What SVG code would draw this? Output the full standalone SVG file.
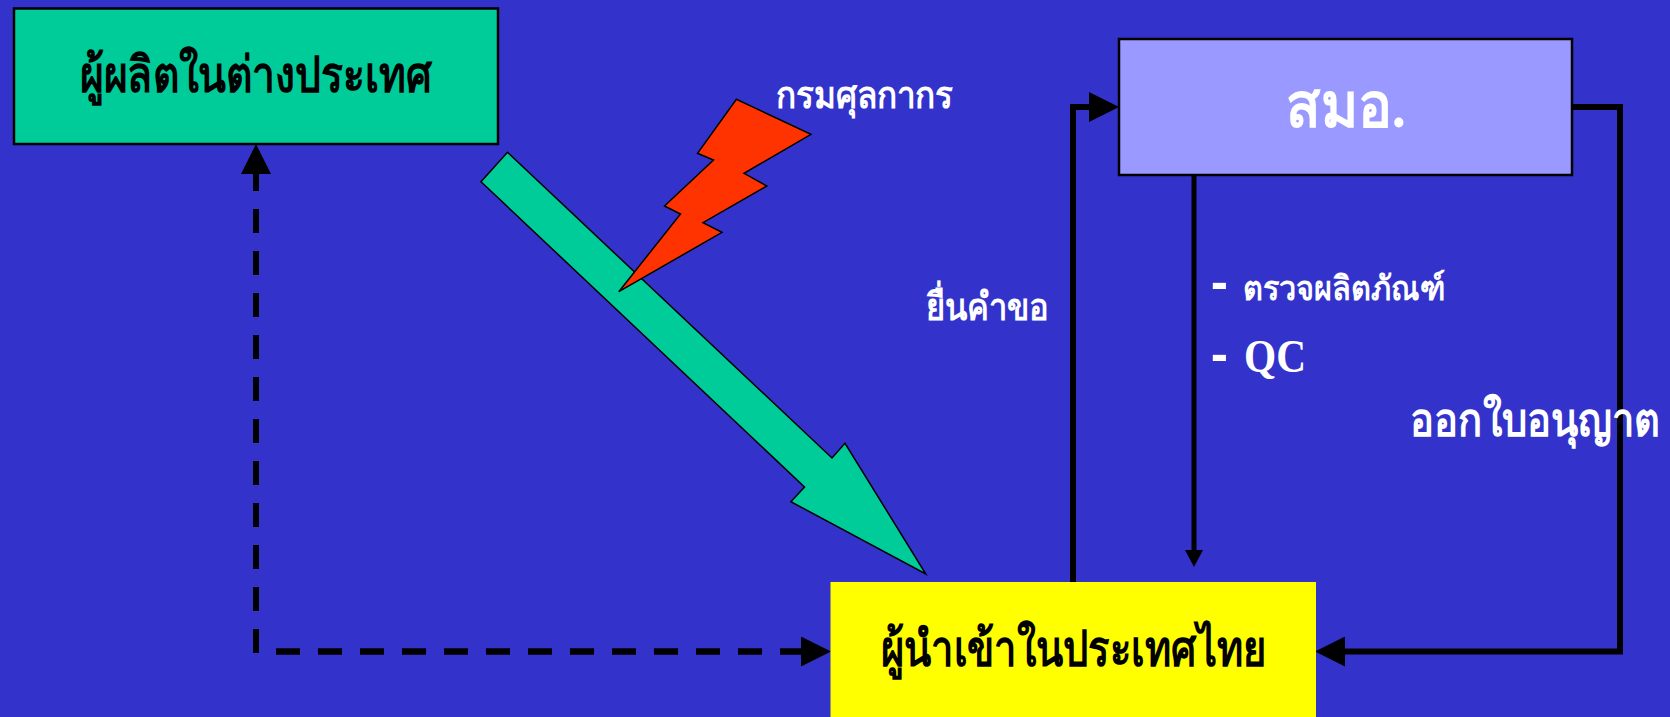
<svg xmlns="http://www.w3.org/2000/svg" width="1670" height="717" viewBox="0 0 1670 717">
<style>
text{font-family:"Liberation Serif","DejaVu Serif",serif;font-weight:bold}
.k{fill:#000}.w{fill:#fff}
.box{stroke:#000;stroke-width:2.5}
.shape{stroke:#000;stroke-width:1.5;stroke-linejoin:miter}
.ln{fill:none;stroke:#000;stroke-width:6;stroke-linejoin:miter}
.dash{stroke-dasharray:24 18}
</style>
<defs>
<marker id="a" markerUnits="userSpaceOnUse" markerWidth="30" markerHeight="30" refX="0" refY="15" orient="auto"><path d="M0 0L30 15L0 30z" fill="#000"/></marker>
<marker id="b" markerUnits="userSpaceOnUse" markerWidth="18" markerHeight="18" refX="0" refY="9" orient="auto"><path d="M0 0L17 9L0 18z" fill="#000"/></marker>
</defs>
<rect width="1670" height="717" fill="#3333CC"/>
<g id="connectors">
<path class="ln" d="M256 191V174" marker-end="url(#a)"/>
<path class="ln dash" d="M256 209V654"/>
<path class="ln dash" d="M276 651.5H801" style="stroke-width:6.5" marker-end="url(#a)"/>
<path class="ln" d="M1073 583V107H1089" marker-end="url(#a)"/>
<path class="ln" d="M1194 175V550" style="stroke-width:5" marker-end="url(#b)"/>
<path class="ln" d="M1572 107H1620V651.5H1345" marker-end="url(#a)"/>
</g>
<g id="node-foreign-maker">
<rect class="box" x="14" y="8.5" width="484" height="135.5" fill="#00CC99"/>
<text class="k" x="80" y="92" font-size="50" textLength="352" lengthAdjust="spacingAndGlyphs">ผู้ผลิตในต่างประเทศ</text>
</g>
<g id="node-tisi">
<rect class="box" x="1119" y="39" width="453" height="136" fill="#9999FF"/>
<text class="w" x="1286" y="127" font-size="62" textLength="120" lengthAdjust="spacingAndGlyphs">สมอ.</text>
</g>
<g id="node-thai-importer">
<rect x="830.5" y="582" width="485.5" height="135" fill="#FFFF00"/>
<text class="k" x="881" y="666" font-size="50" textLength="385" lengthAdjust="spacingAndGlyphs">ผู้นำเข้าในประเทศไทย</text>
</g>
<g id="node-big-arrow">
<path class="shape" fill="#00CC99" d="M507.5 152.3L832 458L845 443.3L925.8 574L790.9 501.7L804.5 487L481 181.7Z"/>
</g>
<g id="node-customs">
<path class="shape" fill="#FF3300" d="M736.4 99.3L811 134.3L744 173.3L766.8 186L703 222.7L722 232.3L618.8 291.7L680.5 214L664.5 206L713.5 160L697.5 153.3Z"/>
<text class="w" x="776" y="108" font-size="38" textLength="177" lengthAdjust="spacingAndGlyphs">กรมศุลกากร</text>
</g>
<text class="w" x="926" y="320" font-size="38" textLength="123" lengthAdjust="spacingAndGlyphs">ยื่นคำขอ</text>
<text class="w" transform="translate(1211,303) scale(.7,1)" font-size="72">-</text>
<text class="w" x="1243" y="300" font-size="34" textLength="202" lengthAdjust="spacingAndGlyphs">ตรวจผลิตภัณฑ์</text>
<text class="w" transform="translate(1211,375) scale(.7,1)" font-size="72">-</text>
<text class="w" x="1244" y="372" font-size="46" textLength="62" lengthAdjust="spacingAndGlyphs">QC</text>
<text class="w" x="1410" y="436" font-size="46" textLength="250" lengthAdjust="spacingAndGlyphs">ออกใบอนุญาต</text>
</svg>
